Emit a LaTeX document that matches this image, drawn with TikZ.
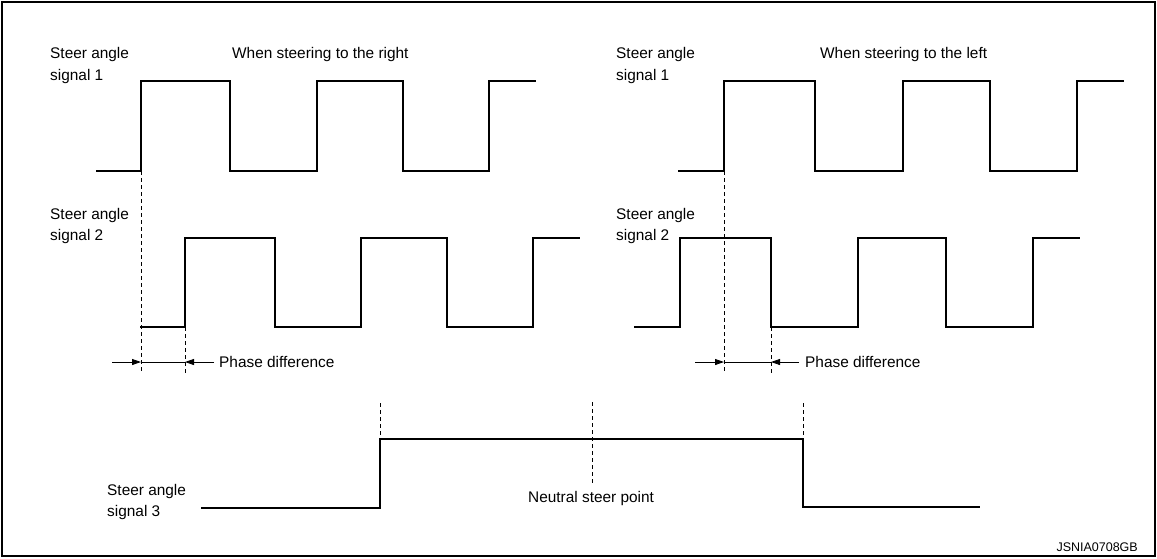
\documentclass[tikz,border=0pt]{standalone}
\usepackage{fontspec}
\setmainfont{Liberation Sans}
\usetikzlibrary{arrows.meta}
\tikzset{
  sig/.style={line width=1.6pt, line join=miter, line cap=rect},
  guide/.style={line width=0.8pt, dash pattern=on 4pt off 3pt},
  lbl/.style={font=\fontsize{15.4}{21.7}\selectfont, inner sep=0pt, anchor=base west},
  code/.style={font=\fontsize{12.5}{15}\selectfont, inner sep=0pt, anchor=base east},
  dim/.style={line width=0.8pt},
  tip/.style={-{Triangle[length=9pt,width=6pt]}}
}
\begin{document}
\begin{tikzpicture}[x=1pt,y=-1pt]
\useasboundingbox (0,0) rectangle (1157,558);
\draw[line width=2.4pt] (2,2) rectangle (1155,556);

% ---- labels ----
\node[lbl] (l1a) at (50,58) {Steer angle};
\node[lbl] (l1b) at (50,80) {signal 1};
\node[lbl] (l2a) at (50,219) {Steer angle};
\node[lbl] (l2b) at (50,240.5) {signal 2};
\node[lbl] (r1a) at (616,58) {Steer angle};
\node[lbl] (r1b) at (616,80) {signal 1};
\node[lbl] (r2a) at (616,219) {Steer angle};
\node[lbl] (r2b) at (616,240.5) {signal 2};
\node[lbl] (tR) at (232,58) {When steering to the right};
\node[lbl] (tL) at (820,58) {When steering to the left};
\node[lbl] (l3a) at (107,495) {Steer angle};
\node[lbl] (l3b) at (107,516) {signal 3};
\node[lbl] (np) at (528,502.5) {Neutral steer point};
\node[lbl] (pdL) at (219,367) {Phase difference};
\node[lbl] (pdR) at (805,367) {Phase difference};
\node[code] (id) at (1138,551.5) {JSNIA0708GB};

% ---- signal 1, steering right ----
\draw[sig] (97,171) -- (141,171) -- (141,81) -- (230,81) -- (230,171) -- (317,171)
  -- (317,81) -- (403,81) -- (403,171) -- (489,171) -- (489,81) -- (535,81);
% ---- signal 2, steering right ----
\draw[sig] (141,327) -- (185,327) -- (185,238) -- (275,238) -- (275,327) -- (361,327)
  -- (361,238) -- (447,238) -- (447,327) -- (533,327) -- (533,238) -- (579,238);
% ---- signal 1, steering left ----
\draw[sig] (679,171) -- (724,171) -- (724,81) -- (815,81) -- (815,171) -- (903,171)
  -- (903,81) -- (990,81) -- (990,171) -- (1077,171) -- (1077,81) -- (1123,81);
% ---- signal 2, steering left ----
\draw[sig] (635,327) -- (680,327) -- (680,238) -- (771,238) -- (771,327) -- (858,327)
  -- (858,238) -- (946,238) -- (946,327) -- (1033,327) -- (1033,238) -- (1079,238);
% ---- signal 3 ----
\draw[sig] (202,508) -- (380,508) -- (380,439) -- (803,439) -- (803,507) -- (979,507);

% ---- guide coordinates ----
\coordinate (gL1t) at (141,171); \coordinate (gL1b) at (141,373);
\coordinate (gL2t) at (185,327); \coordinate (gL2b) at (185,373);
\coordinate (gR1t) at (724,171); \coordinate (gR1b) at (724,373);
\coordinate (gR2t) at (771,327); \coordinate (gR2b) at (771,373);
\coordinate (g3at) at (380,403); \coordinate (g3ab) at (380,439);
\coordinate (g3bt) at (803,403); \coordinate (g3bb) at (803,439);
\coordinate (gnt) at (592,402); \coordinate (gnb) at (592,485);
\draw[guide] (gL1t) -- (gL1b);
\draw[guide] (gL2t) -- (gL2b);
\draw[guide] (gR1t) -- (gR1b);
\draw[guide] (gR2t) -- (gR2b);
\draw[guide] (g3at) -- (g3ab);
\draw[guide] (g3bt) -- (g3bb);
\draw[guide] (gnt) -- (gnb);

% ---- phase difference dimension ----
\coordinate (aL0) at (112,362); \coordinate (aL1) at (141,362);
\coordinate (aL2) at (185,362); \coordinate (aL3) at (214,362);
\draw[dim,tip] (aL0) -- (aL1);
\draw[dim] (aL1) -- (aL2);
\draw[dim,tip] (aL3) -- (aL2);
\coordinate (aR0) at (695,362); \coordinate (aR1) at (724,362);
\coordinate (aR2) at (771,362); \coordinate (aR3) at (799,362);
\draw[dim,tip] (aR0) -- (aR1);
\draw[dim] (aR1) -- (aR2);
\draw[dim,tip] (aR3) -- (aR2);
\end{tikzpicture}
\end{document}
